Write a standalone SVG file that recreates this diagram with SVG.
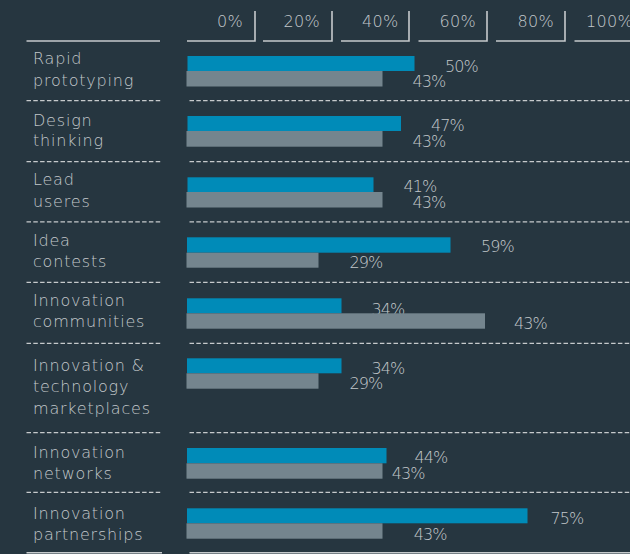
<svg xmlns="http://www.w3.org/2000/svg" width="630" height="554" viewBox="0 0 630 554">
<style>
.bg{fill:#263640}
.lbl{font-family:"DejaVu Sans",sans-serif;font-size:16px;font-weight:200;letter-spacing:0.8px;fill:#c3c8cb}
.ax{font-family:"DejaVu Sans",sans-serif;font-size:16px;font-weight:200;letter-spacing:0.3px;fill:#c3c8cb;text-anchor:end}
.val{font-family:"DejaVu Sans",sans-serif;font-size:16px;font-weight:200;letter-spacing:-0.9px;fill:#c3c8cb}
.blue{fill:#008bb8}
.gray{fill:#74858e}
.axl{stroke:#c6cacc;stroke-width:1.6;fill:none}
.sep{stroke:#c6cacc;stroke-width:1.2;stroke-dasharray:4.5 2.3;fill:none}
.solid{stroke:#c6cacc;stroke-width:1.6;fill:none}
</style>
<rect class="bg" x="0" y="0" width="630" height="554"/>

<g id="axis">
  <line class="axl" x1="26.5" y1="41" x2="160" y2="41"/>
  <path class="axl" d="M187,41 H255 V11"/>
  <path class="axl" d="M263,41 H332 V11"/>
  <path class="axl" d="M341,41 H409 V11"/>
  <path class="axl" d="M418.5,41 H487 V11"/>
  <path class="axl" d="M496,41 H565 V11"/>
  <path class="axl" d="M574.5,41 H643 V11"/>
  <text class="ax" x="243" y="27">0%</text>
  <text class="ax" x="320" y="27">20%</text>
  <text class="ax" x="398.5" y="27">40%</text>
  <text class="ax" x="476" y="27">60%</text>
  <text class="ax" x="554" y="27">80%</text>
  <text class="ax" x="633" y="27">100%</text>
</g>

<g id="separators">
  <path class="sep" d="M26.5,100.7 H162 M189.5,100.7 H630"/>
  <path class="sep" d="M26.5,161.7 H162 M189.5,161.7 H630"/>
  <path class="sep" d="M26.5,221.8 H162 M189.5,221.8 H630"/>
  <path class="sep" d="M26.5,282.3 H162 M189.5,282.3 H630"/>
  <path class="sep" d="M26.5,343.3 H162 M189.5,343.3 H630"/>
  <path class="sep" d="M26.5,432.7 H162 M189.5,432.7 H630"/>
  <path class="sep" d="M26.5,492.3 H162 M189.5,492.3 H630"/>
  <path class="solid" d="M26.5,552.8 H162 M189.5,552.8 H630"/>
</g>

<g id="row-rapid-prototyping">
  <text class="lbl" x="33" y="64">Rapid</text>
  <text class="lbl" x="33" y="85.5">prototyping</text>
  <rect class="blue" x="187.5" y="56" width="227" height="15"/>
  <rect class="gray" x="186.5" y="71" width="196" height="15.5"/>
  <text class="val" x="445" y="72">50%</text>
  <text class="val" x="412.5" y="86.5">43%</text>
</g>

<g id="row-design-thinking">
  <text class="lbl" x="33" y="125.5">Design</text>
  <text class="lbl" x="33" y="146">thinking</text>
  <rect class="blue" x="187.5" y="116" width="213.5" height="15"/>
  <rect class="gray" x="186.5" y="131" width="196" height="15.7"/>
  <text class="val" x="431" y="131">47%</text>
  <text class="val" x="412.5" y="146.7">43%</text>
</g>

<g id="row-lead-useres">
  <text class="lbl" x="33" y="185">Lead</text>
  <text class="lbl" x="33" y="206.5">useres</text>
  <rect class="blue" x="187.5" y="177.3" width="186" height="14.7"/>
  <rect class="gray" x="186.5" y="192" width="196" height="15.5"/>
  <text class="val" x="403.5" y="192">41%</text>
  <text class="val" x="412.5" y="207.7">43%</text>
</g>

<g id="row-idea-contests">
  <text class="lbl" x="33" y="246">Idea</text>
  <text class="lbl" x="33" y="267">contests</text>
  <rect class="blue" x="187" y="237.3" width="263.5" height="15.4"/>
  <rect class="gray" x="186.5" y="252.7" width="132" height="15"/>
  <text class="val" x="481" y="252.3">59%</text>
  <text class="val" x="349.5" y="268.3">29%</text>
</g>

<g id="row-innovation-communities">
  <text class="lbl" x="33" y="306">Innovation</text>
  <text class="lbl" x="33" y="327.3">communities</text>
  <rect class="blue" x="187" y="298.3" width="154.5" height="15"/>
  <text class="val" x="371.5" y="314.7">34%</text>
  <rect class="gray" x="186.5" y="313.3" width="298.5" height="15.4"/>
  <text class="val" x="514" y="329">43%</text>
</g>

<g id="row-innovation-technology-marketplaces">
  <text class="lbl" x="33" y="371">Innovation &amp;</text>
  <text class="lbl" x="33" y="392.3">technology</text>
  <text class="lbl" x="33" y="413.5">marketplaces</text>
  <rect class="blue" x="187" y="358.3" width="154.5" height="15"/>
  <rect class="gray" x="186.5" y="373.3" width="132" height="15.4"/>
  <text class="val" x="371.5" y="374">34%</text>
  <text class="val" x="349.5" y="389.3">29%</text>
</g>

<g id="row-innovation-networks">
  <text class="lbl" x="33" y="458.3">Innovation</text>
  <text class="lbl" x="33" y="479">networks</text>
  <rect class="blue" x="187" y="448" width="199.5" height="15.3"/>
  <rect class="gray" x="186.5" y="463.3" width="196" height="15.4"/>
  <text class="val" x="414.5" y="463.3">44%</text>
  <text class="val" x="391.7" y="478.7">43%</text>
</g>

<g id="row-innovation-partnerships">
  <text class="lbl" x="33" y="519">Innovation</text>
  <text class="lbl" x="33" y="539.5">partnerships</text>
  <rect class="blue" x="187" y="508.3" width="340.5" height="15"/>
  <rect class="gray" x="186.5" y="523.3" width="196" height="15.4"/>
  <text class="val" x="550.5" y="524.3">75%</text>
  <text class="val" x="413.8" y="540">43%</text>
</g>
</svg>
